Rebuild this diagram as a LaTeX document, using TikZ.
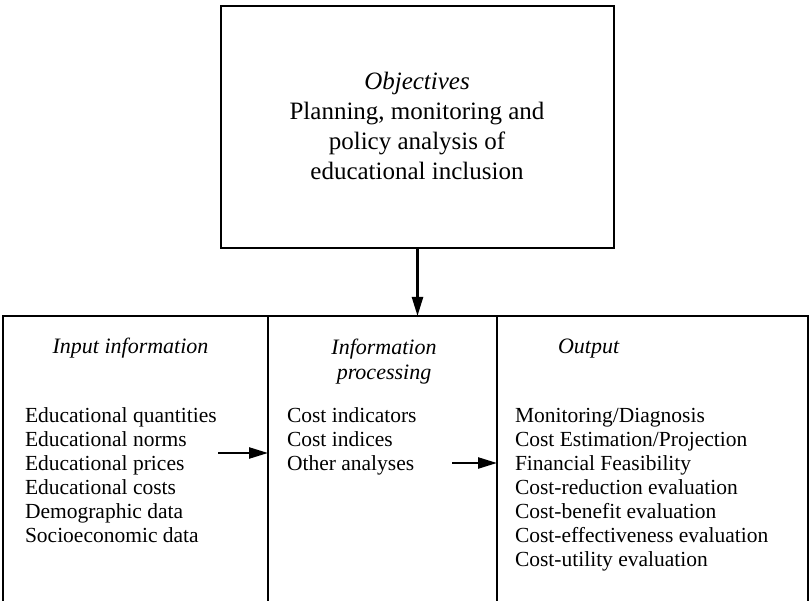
\documentclass[tikz,border=0pt]{standalone}
\usepackage{fontspec}
\setmainfont{Liberation Serif}
\usetikzlibrary{arrows.meta}
\begin{document}
\begin{tikzpicture}[x=1pt,y=1pt,
  box/.style={draw=drawColor,line width=1.8pt,rectangle,inner sep=0pt,outer sep=0pt},
  headtext/.style={text=drawColor,inner sep=0pt,outer sep=0pt,font=\fontsize{22}{25}\selectfont\itshape},
  listtext/.style={text=drawColor,anchor=north west,align=left,inner sep=0pt,outer sep=0pt,font=\fontsize{21.5}{24}\selectfont},
  arr/.style={draw=drawColor,line width=2.4pt,-{Triangle[length=19pt,width=11pt]}}]
\definecolor{drawColor}{RGB}{0,0,0}
\definecolor{fillColor}{RGB}{255,255,255}
\path[use as bounding box,fill=fillColor] (0,0) rectangle (810,600);
\begin{scope}
\path[clip] (0,0) rectangle (810,600);

% objectives box
\node[box,minimum width=393,minimum height=242] (obj) at (417.5,473) {};
\node[text=drawColor,align=center,inner sep=0pt,outer sep=0pt,font=\fontsize{25}{30}\selectfont] (objtext) at (417,474)
  {\textit{Objectives}\\Planning, monitoring and\\policy analysis of\\educational inclusion};

% the three lower boxes
\node[box,minimum width=265,minimum height=304] (input) at (135.5,132) {};
\node[box,minimum width=229,minimum height=304] (proc) at (382.5,132) {};
\node[box,minimum width=311,minimum height=304] (out) at (652.5,132) {};

\node[headtext,anchor=base] (inhead) at (130.5,247) {Input information};
\node[headtext,anchor=north,align=center] (prochead) at (384,261) {Information\\processing};
\node[headtext,anchor=base west] (outhead) at (558,247) {Output};

\node[listtext] (inlist) at (25,192) {Educational quantities\\Educational norms\\Educational prices\\Educational costs\\Demographic data\\Socioeconomic data};
\node[listtext] (proclist) at (287,192) {Cost indicators\\Cost indices\\Other analyses};
\node[listtext] (outlist) at (515,192) {Monitoring/Diagnosis\\Cost Estimation/Projection\\Financial Feasibility\\Cost-reduction evaluation\\Cost-benefit evaluation\\Cost-effectiveness evaluation\\Cost-utility evaluation};

% arrows
\coordinate (a1) at (218,147);
\coordinate (a2) at (452,137);
\draw[arr] (obj.south) -- (obj.south |- proc.north);
\draw[arr] (a1) -- (a1 -| proc.west);
\draw[arr] (a2) -- (a2 -| out.west);
\end{scope}
\end{tikzpicture}
\end{document}
